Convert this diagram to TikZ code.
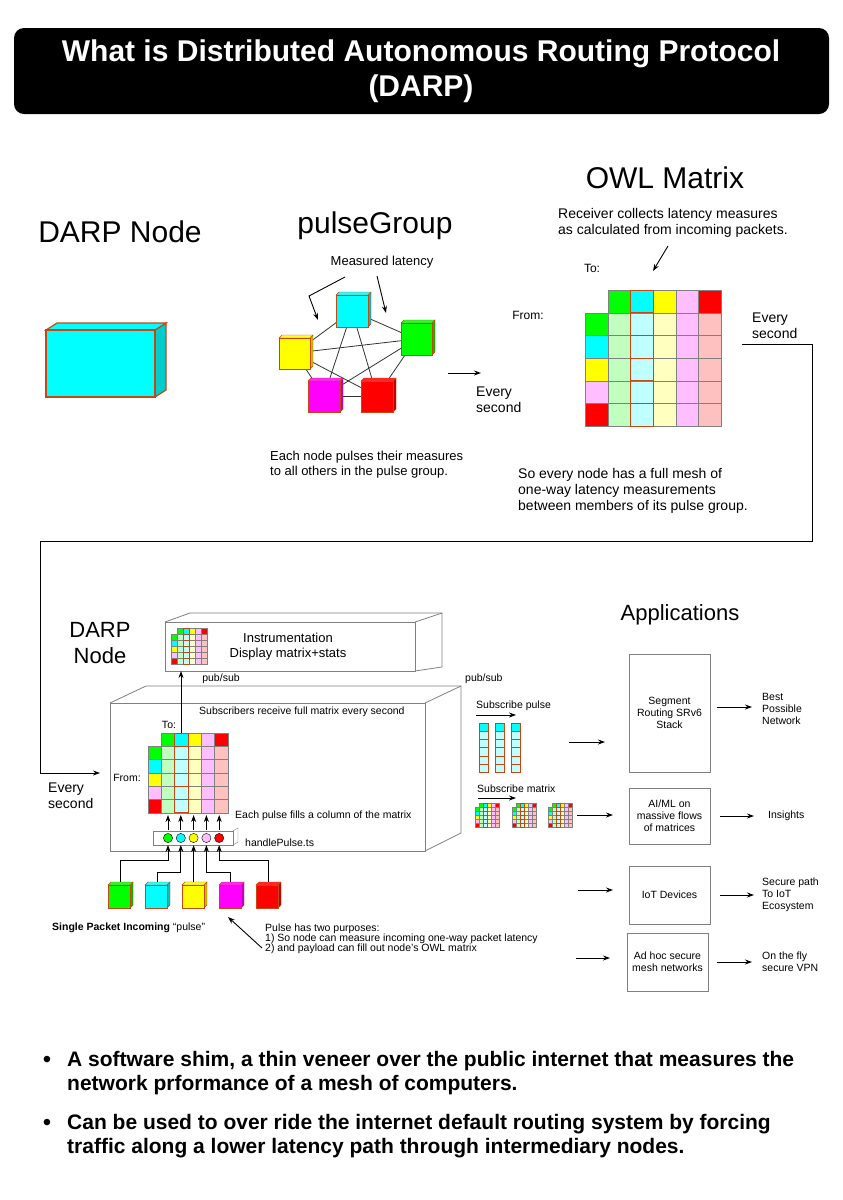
\documentclass[tikz,border=0pt]{standalone}
\usepackage{fontspec}
\setmainfont{Liberation Sans}
\usetikzlibrary{arrows.meta}
\definecolor{brn}{RGB}{200,70,20}
\definecolor{mg}{RGB}{255,0,255}
\definecolor{cyn}{RGB}{0,255,255}
\definecolor{grn}{RGB}{0,255,0}
\definecolor{yel}{RGB}{255,255,0}
\definecolor{rd}{RGB}{255,0,0}
\definecolor{ppk}{RGB}{255,190,255}
\definecolor{pg}{RGB}{192,255,192}
\definecolor{pc}{RGB}{192,255,255}
\definecolor{py}{RGB}{255,255,192}
\definecolor{pr}{RGB}{255,192,192}
\newcommand\fs[1]{\fontsize{#1}{\dimexpr #1pt*23/20\relax}\selectfont}
% x y w h d color
\newcommand\mycube[6]{%
  \filldraw[draw=brn,fill=#6!75!black] ({#1+#3},{#2}) -- ++(#5,-#5) -- ++(0,#4) -- ++(-#5,#5) -- cycle;
  \filldraw[draw=brn,fill=#6!85!white] (#1,#2) -- ++(#5,-#5) -- ++(#3,0) -- ++(-#5,#5) -- cycle;
  \filldraw[draw=brn,fill=#6] (#1,#2) rectangle ++(#3,#4);}
% x y s
\newcommand\owlm[3]{%
  \foreach \c/\hc/\pcol in {1/grn/pg,2/cyn/pc,3/yel/py,4/ppk/ppk,5/rd/pr}{
    \filldraw[fill=\hc,draw=gray] ({#1+\c*#3},#2) rectangle ++(#3,#3);
    \filldraw[fill=\hc,draw=gray] (#1,{#2+\c*#3}) rectangle ++(#3,#3);
    \foreach \r in {1,...,5}{\filldraw[fill=\pcol,draw=gray] ({#1+\c*#3},{#2+\r*#3}) rectangle ++(#3,#3);}}
  \foreach \r in {0,...,5}{\draw[brn,thick] ({#1+2*#3},{#2+\r*#3}) rectangle ++(#3,#3);}}
\tikzset{
  ar/.style={-{Stealth[length=7pt,width=5pt]},line width=0.9pt},
  t/.style={inner sep=0pt,font=\fs{10.5}},
  tl/.style={t,anchor=west,align=left},
  big/.style={inner sep=0pt,font=\fs{30}},
  app/.style={draw=gray,line width=0.8pt,fill=white},
  apt/.style={t,align=center,font=\fs{10.5}}
}
\begin{document}
\begin{tikzpicture}[x=1pt,y=-1pt]
\useasboundingbox (0,0) rectangle (843,1200);
% title
\fill[black,rounded corners=10pt] (14,28) rectangle (829,114);
\node[text=white,align=center,font=\fs{30}\bfseries] (title) at (421,71) {What is Distributed Autonomous Routing Protocol\\(DARP)};
% top headings
\node[big] (h1) at (120,232) {DARP Node};
\node[big] (h2) at (375,226) {pulseGroup};
\node[big] (h3) at (665,178) {OWL Matrix};
% big cube
\filldraw[draw=brn,line width=1.2pt,fill=cyn!80!black] (155,330) -- ++(11,-7) -- ++(0,67) -- ++(-11,7) -- cycle;
\filldraw[draw=brn,line width=1.2pt,fill=cyn] (46,330) -- ++(11,-7) -- ++(109,0) -- ++(-11,7) -- cycle;
\filldraw[draw=brn,line width=1.2pt,fill=cyn] (46,330) rectangle (155,397);
% pulse group
\coordinate (pc1) at (352,311); \coordinate (pc2) at (295,353); \coordinate (pc3) at (416,339);
\coordinate (pc4) at (324,396); \coordinate (pc5) at (377,396);
\foreach \a/\b in {1/2,1/3,1/4,1/5,2/3,2/4,2/5,3/4,3/5,4/5}{\draw[black!80,line width=0.8pt] (pc\a) -- (pc\b);}
\mycube{336}{295}{32}{32}{3}{cyn}
\mycube{279}{338}{31}{31}{3}{yel}
\mycube{401}{323}{31}{32}{3}{grn}
\mycube{308}{381}{32}{31}{3}{mg}
\mycube{361}{381}{32}{31}{3}{rd}
\node[t,font=\fs{13}] (ml) at (382,262) {Measured latency};
\coordinate (m1) at (345,277); \coordinate (m2) at (377,276);
\draw[ar] (m1) -- (309,296) -- (318,320);
\draw[ar] (m2) -- (386,313);
\coordinate (e1a) at (448,373); \coordinate (e1b) at (481,373);
\draw[ar] (e1a) -- (e1b);
\node[tl,font=\fs{14}] (es1) at (476,400) {Every\\second};
\node[tl,font=\fs{13}] (pgt) at (270,465) {Each node pulses their measures\\to all others in the pulse group.};
% OWL matrix
\node[tl,font=\fs{14}] (rc) at (558,223) {Receiver collects latency measures\\as calculated from incoming packets.};
\coordinate (ra) at (668,246); \coordinate (rb) at (653,271);
\draw[ar] (ra) -- (rb);
\node[t,font=\fs{12}] (to1) at (592,268) {To:};
\node[t,font=\fs{12}] (fr1) at (528,315) {From:};
\owlm{585}{290}{22.7}
\node[tl,font=\fs{14}] (es2) at (752,326) {Every\\second};
\node[tl,font=\fs{14}] (fm) at (518,491) {So every node has a full mesh of\\one-way latency measurements\\between members of its pulse group.};
\coordinate (l1) at (742,344); \coordinate (l2) at (100,773);
\draw[ar,line width=1pt] (l1) -- (812,344) -- (812,541) -- (40,541) -- (40,773) -- (l2);
\node[tl,font=\fs{14}] (es3) at (48,796) {Every\\second};
% bottom DARP node
\node[t,font=\fs{22},align=center] (dn) at (100,643) {DARP\\Node};
% instrumentation box
\draw[gray,line width=0.8pt,fill=white] (165,622) -- (190,613) -- (442,613) -- (442,667) -- (415,671);
\draw[gray,line width=0.8pt] (415,622) -- (442,613);
\draw[gray,line width=0.8pt,fill=white] (165,622) rectangle (415,671);
\owlm{171}{628}{6.1}
\node[t,font=\fs{13},align=center] (ins) at (288,647) {Instrumentation\\Display matrix+stats};
% main box
\draw[gray,line width=0.8pt,fill=white] (110,703) -- (146,686) -- (461,686) -- (461,833) -- (425,851);
\draw[gray,line width=0.8pt] (425,703) -- (461,686);
\draw[gray,line width=0.8pt] (110,703) rectangle (425,851);
\node[t] (ps1) at (221,679) {pub/sub};
\node[tl] (ps2) at (465,679) {pub/sub};
\node[tl] (sr) at (199,712) {Subscribers receive full matrix every second};
\node[t] (to2) at (169,725) {To:};
\node[t] (fr2) at (127,778) {From:};
\owlm{148}{733}{13.3}
\coordinate (pa) at (181,733); \coordinate (pb) at (181,671);
\draw[ar] (pa) -- (pb);
\node[tl] (ep) at (235,816) {Each pulse fills a column of the matrix};
% handlePulse
\draw[gray,fill=white] (233,831) -- (238,828) -- (238,842) -- (233,845);
\draw[gray,fill=white] (153,831) rectangle (233,845);
\foreach \i/\cl in {0/grn,1/cyn,2/yel,3/ppk,4/rd}{
  \coordinate (cc\i) at ({168+\i*12.8},838);
  \filldraw[fill=\cl,draw=black] (cc\i) circle (4.6);
  \draw[ar,line width=0.8pt] ({168+\i*12.8},830) -- ({168+\i*12.8},815);}
\node[tl] (hp) at (245,843) {handlePulse.ts};
% packets
\mycube{108}{885}{22}{23}{3}{grn}
\mycube{145}{885}{22}{23}{3}{cyn}
\mycube{182}{885}{22}{23}{3}{yel}
\mycube{219}{885}{22}{23}{3}{mg}
\mycube{256}{885}{22}{23}{3}{rd}
\draw[ar,line width=0.8pt] (120,882) -- (120,860) -- (168,860) -- (168,845);
\draw[ar,line width=0.8pt] (157,882) -- (157,872) -- (180.8,872) -- (180.8,845);
\draw[ar,line width=0.8pt] (193.6,882) -- (193.6,845);
\draw[ar,line width=0.8pt] (230,882) -- (230,872) -- (206.4,872) -- (206.4,845);
\draw[ar,line width=0.8pt] (268,882) -- (268,860) -- (219.2,860) -- (219.2,845);
\node[tl] (sp) at (52,928) {\textbf{Single Packet Incoming} “pulse”};
\coordinate (pua) at (262,948); \coordinate (pub) at (228,917);
\draw[ar] (pua) -- (pub);
\node[tl,font=\fs{10.5}\linespread{0.85}\selectfont] (pt) at (265,939) {Pulse has two purposes:\\1) So node can measure incoming one-way packet latency\\2) and payload can fill out node's OWL matrix};
% applications
\node[t,font=\fs{22}] (apps) at (680,615) {Applications};
\node[tl] (sub1) at (476,706) {Subscribe pulse};
\coordinate (s1a) at (476,715); \coordinate (s1b) at (516,715);
\draw[ar,line width=0.8pt] (s1a) -- (s1b);
\foreach \x in {479,495,511}{
  \foreach \r in {0,...,5}{\filldraw[draw=brn,fill=pc] (\x,{723+\r*8.2}) rectangle ++(9,8.2);}
  \filldraw[draw=brn,fill=cyn] (\x,723) rectangle ++(9,8.2);}
\node[tl] (sub2) at (477,789) {Subscribe matrix};
\coordinate (s2a) at (478,798); \coordinate (s2b) at (516,798);
\draw[ar,line width=0.8pt] (s2a) -- (s2b);
\owlm{475}{803}{4.1}
\owlm{512}{803}{4.1}
\owlm{548}{803}{4.1}
% app boxes
\node[app,minimum width=81pt,minimum height=118pt] (b1) at (669.5,713) {};
\node[apt] at (b1) {Segment\\Routing SRv6\\Stack};
\node[app,minimum width=81pt,minimum height=56pt] (b2) at (669.5,816) {};
\node[apt] at (b2) {AI/ML on\\massive flows\\of matrices};
\node[app,minimum width=81pt,minimum height=58pt] (b3) at (669.5,895) {};
\node[apt] at (b3) {IoT Devices};
\node[app,minimum width=81pt,minimum height=58pt] (b4) at (667.5,962) {};
\node[apt] at (b4) {Ad hoc secure\\mesh networks};
\coordinate (i1) at (569,742); \draw[ar] (i1) -- (605,742);
\coordinate (i2) at (577,815); \draw[ar] (i2) -- (613,815);
\coordinate (i3) at (578,890); \draw[ar] (i3) -- (613,890);
\coordinate (i4) at (576,958); \draw[ar] (i4) -- (610,958);
\node[tl] (o1) at (762,709) {Best\\Possible\\Network};
\node[tl] (o2) at (768,816) {Insights};
\node[tl] (o3) at (762,895) {Secure path\\To IoT\\Ecosystem};
\node[tl] (o4) at (762,962) {On the fly\\secure VPN};
\draw[ar] ([xshift=7pt,yshift=6pt]b1.east) -- ([xshift=-10pt]o1.west |- 0,707);
\draw[ar] ([xshift=10pt]b2.east) -- ([xshift=-14pt]o2.west);
\draw[ar] ([xshift=10pt]b3.east) -- ([xshift=-8pt]o3.west);
\draw[ar] ([xshift=9pt]b4.east) -- ([xshift=-10pt]o4.west);
% bullets
\node[t,font=\fs{24}] (bl1) at (47,1062) {•};
\node[tl,font=\fs{21}\bfseries] (bt1) at (67,1073) {A software shim, a thin veneer over the public internet that measures the\\network prformance of a mesh of computers.};
\node[t,font=\fs{24}] (bl2) at (47,1125) {•};
\node[tl,font=\fs{21}\bfseries] (bt2) at (67,1136) {Can be used to over ride the internet default routing system by forcing\\traffic along a lower latency path through intermediary nodes.};
\end{tikzpicture}
\end{document}
